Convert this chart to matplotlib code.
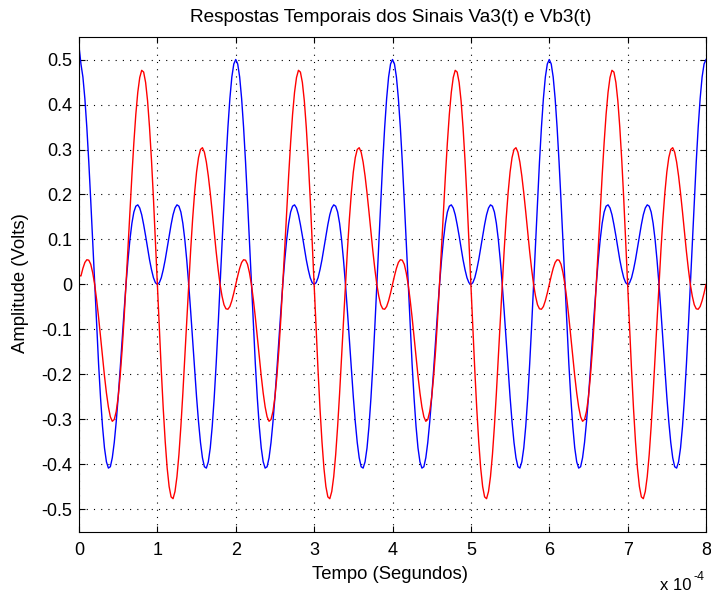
#!/usr/bin/env python
import numpy as np
import matplotlib
matplotlib.use("Agg")
import matplotlib.pyplot as plt
from matplotlib.ticker import FuncFormatter, MultipleLocator

plt.rcParams['font.family'] = ['Liberation Sans', 'DejaVu Sans']
plt.rcParams['font.size'] = 13
plt.rcParams['axes.unicode_minus'] = False

# one period (2e-4 s) of each signal, sampled every 0.025e-4 s
passo = 0.025
va3_periodo = [0.500, 0.490, 0.461, 0.413, 0.349, 0.272, 0.186, 0.094, 0.000, -0.092,
               -0.177, -0.252, -0.315, -0.363, -0.394, -0.408, -0.405, -0.385, -0.351, -0.305,
               -0.250, -0.189, -0.124, -0.060, 0.000, 0.054, 0.100, 0.136, 0.161, 0.174,
               0.177, 0.170, 0.155, 0.133, 0.108, 0.081, 0.055, 0.033, 0.015, 0.004,
               0.000, 0.004, 0.015, 0.033, 0.055, 0.081, 0.108, 0.133, 0.155, 0.170,
               0.177, 0.174, 0.161, 0.136, 0.100, 0.054, 0.000, -0.060, -0.124, -0.189,
               -0.250, -0.305, -0.351, -0.385, -0.405, -0.408, -0.394, -0.363, -0.315, -0.252,
               -0.177, -0.092, 0.000, 0.094, 0.186, 0.272, 0.349, 0.413, 0.461, 0.490]
vb3_periodo = [0.000, 0.019, 0.036, 0.049, 0.055, 0.054, 0.045, 0.026, 0.000, -0.034,
               -0.073, -0.116, -0.161, -0.203, -0.241, -0.272, -0.294, -0.304, -0.300, -0.282,
               -0.250, -0.204, -0.146, -0.077, 0.000, 0.081, 0.163, 0.242, 0.315, 0.378,
               0.427, 0.460, 0.476, 0.472, 0.449, 0.408, 0.349, 0.276, 0.191, 0.098,
               0.000, -0.098, -0.191, -0.276, -0.349, -0.408, -0.449, -0.472, -0.476, -0.460,
               -0.427, -0.378, -0.315, -0.242, -0.163, -0.081, 0.000, 0.077, 0.146, 0.204,
               0.250, 0.282, 0.300, 0.304, 0.294, 0.272, 0.241, 0.203, 0.161, 0.116,
               0.073, 0.034, 0.000, -0.026, -0.045, -0.054, -0.055, -0.049, -0.036, -0.019]
n_periodos = 4
va3_inicio = 0.53   # small start-up transient
vb3_inicio = 0.02
va3_fim = 0.500
vb3_fim = 0.000

va3 = np.append(np.tile(va3_periodo, n_periodos), va3_fim)
vb3 = np.append(np.tile(vb3_periodo, n_periodos), vb3_fim)
va3[0] = va3_inicio
vb3[0] = vb3_inicio
t = np.arange(len(va3)) * passo   # in units of 1e-4 s

fig = plt.figure(figsize=(7.11, 5.94), dpi=100)
ax = fig.add_axes([0.1111, 0.1044, 0.8819, 0.8333])

ax.plot(t, va3, color=(0, 0, 1), linewidth=1.0)
ax.plot(t, vb3, color=(1, 0, 0), linewidth=1.0)

ax.set_xlim(0, 8)
ax.set_ylim(-0.55, 0.55)
ax.xaxis.set_major_locator(MultipleLocator(1))
ax.yaxis.set_major_locator(MultipleLocator(0.1))
ax.yaxis.set_major_formatter(FuncFormatter(lambda v, p: '%g' % round(v, 2)))
ax.xaxis.set_major_formatter(FuncFormatter(lambda v, p: '%g' % v))

ax.grid(True, color='black', linestyle=(0, (1, 5.5)), linewidth=0.8)
ax.tick_params(direction='in', length=4.5, width=0.8, top=True, right=True,
               colors='black', labelsize=13)
ax.tick_params(axis='x', pad=7)
ax.tick_params(axis='y', pad=5)
for s in ax.spines.values():
    s.set_linewidth(0.8)

fig.text(0.549, 1 - 21.7 / 594, 'Respostas Temporais dos Sinais Va3(t) e Vb3(t)',
         ha='center', va='baseline', fontsize=13.7)
fig.text(0.549, 1 - 579 / 594, 'Tempo (Segundos)', ha='center', va='baseline', fontsize=13.3)
fig.text(21 / 711, 1 - 283 / 594, 'Amplitude (Volts)', ha='center', va='center',
         rotation=90, fontsize=13.3)
fig.text(660 / 711, 1 - 590 / 594, 'x 10', ha='left', va='baseline', fontsize=12)
fig.text(694 / 711, 1 - 580 / 594, '-4', ha='left', va='baseline', fontsize=9)

fig.savefig('out.png', dpi=100)
